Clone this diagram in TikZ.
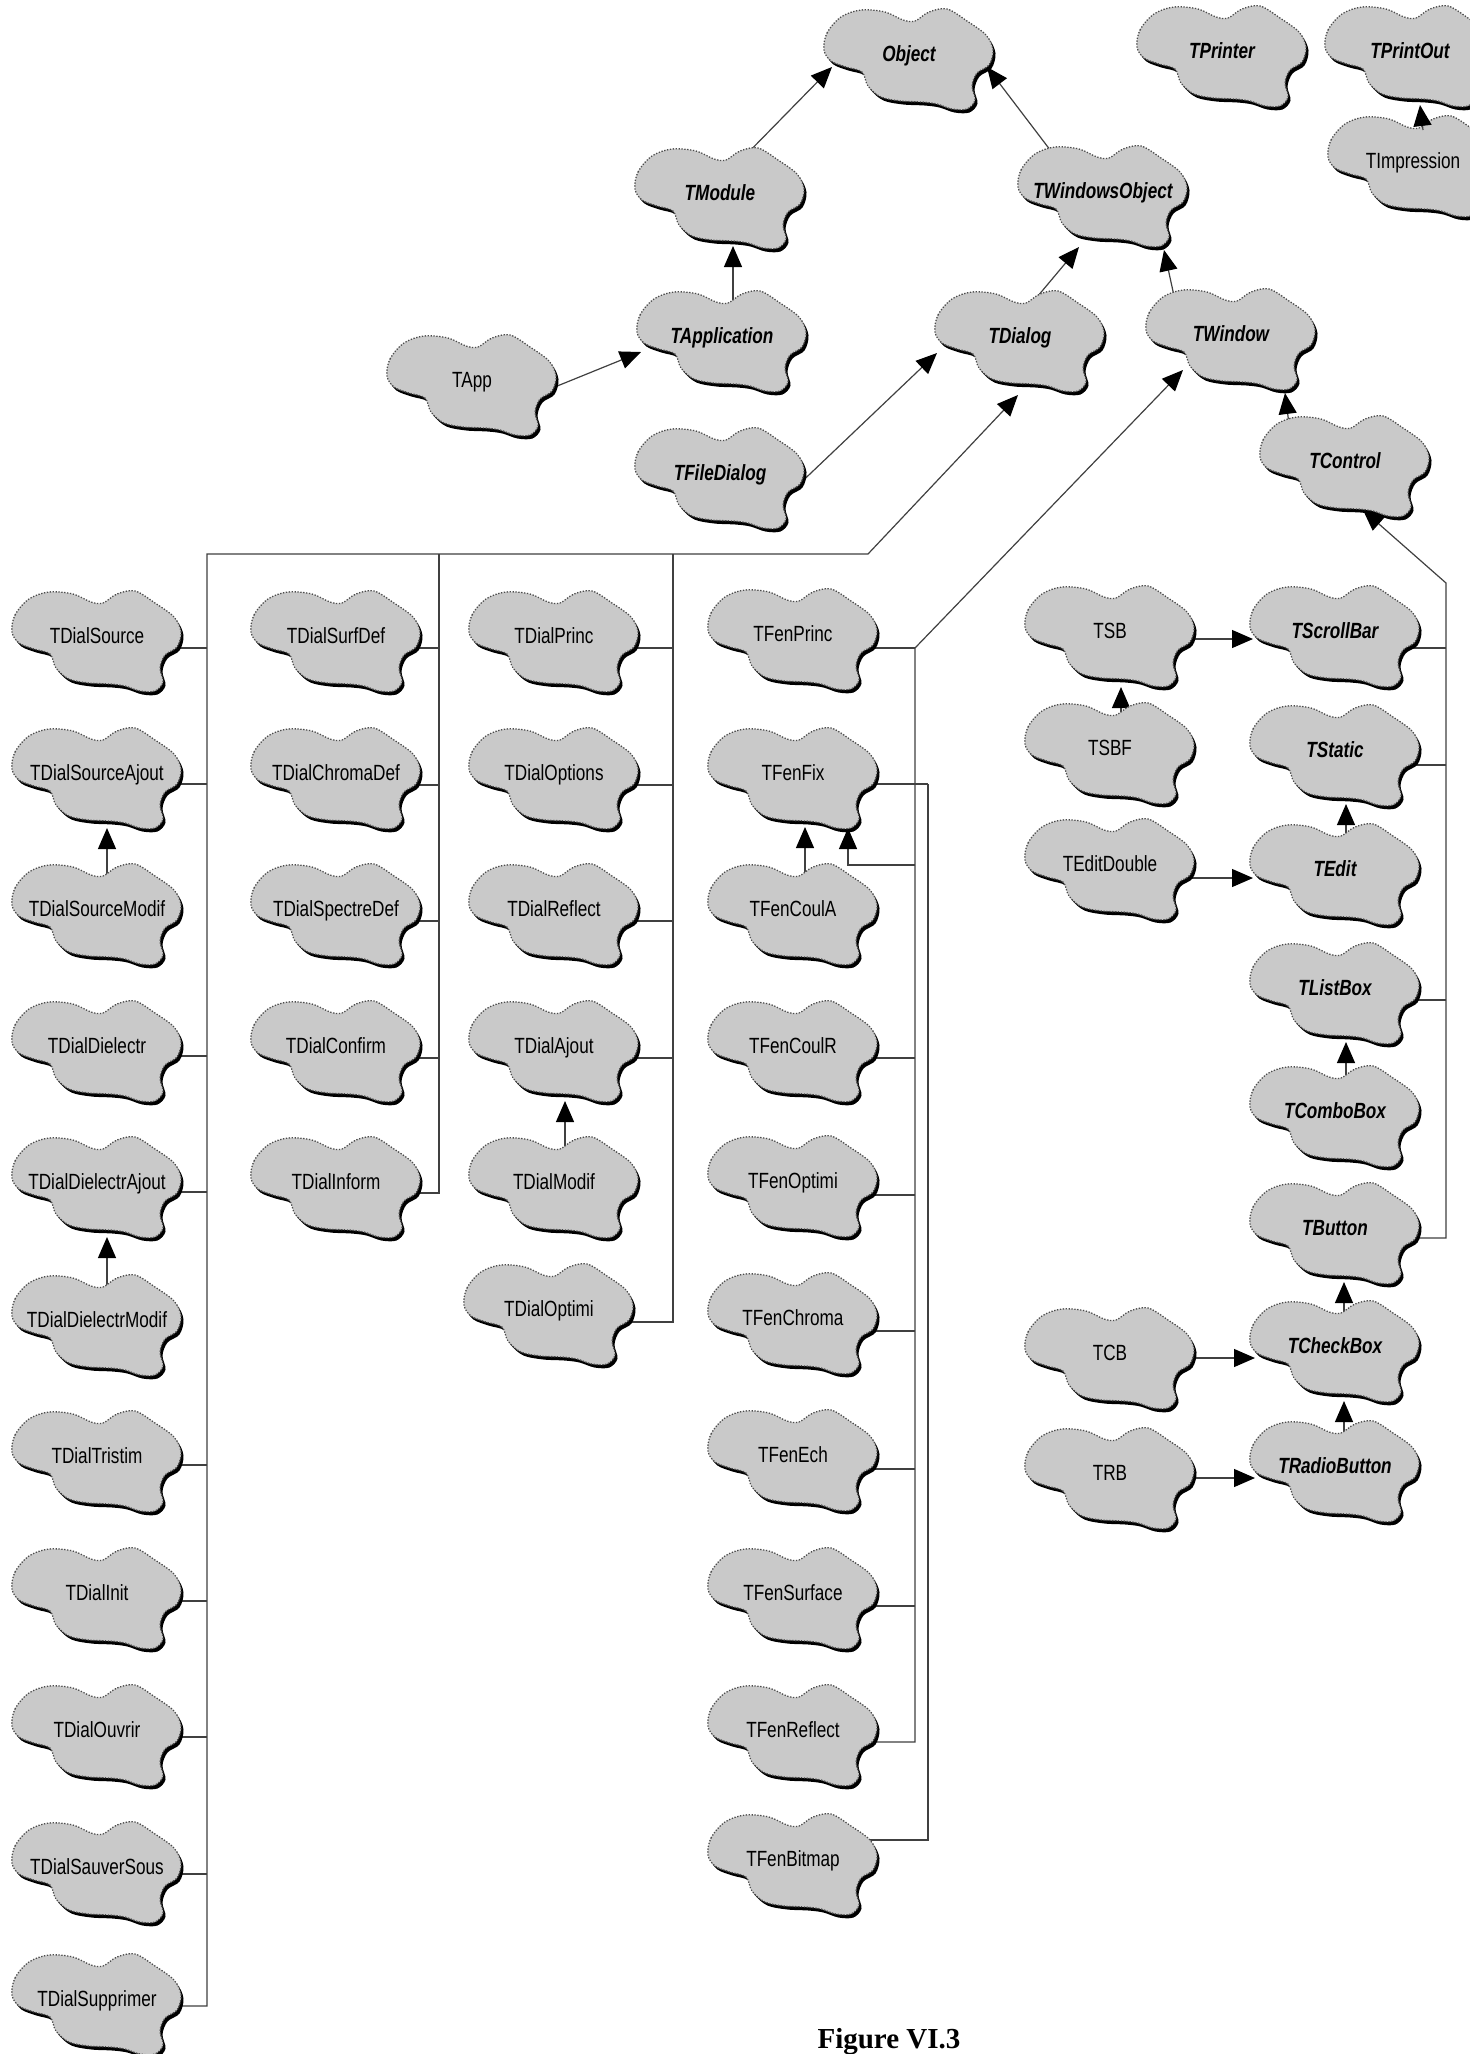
\documentclass[tikz,border=0pt]{standalone}
\usepackage{fontspec}
\setmainfont{Liberation Sans}
\newfontfamily\lblfont[FakeStretch=0.78]{Liberation Sans}
\newfontfamily\capfont{Liberation Serif}
\usetikzlibrary{arrows.meta,calc}
\pgfdeclarelayer{back}
\pgfdeclarelayer{bg}
\pgfsetlayers{back,bg,main}
\tikzset{
  lbl/.style={font=\lblfont\fontsize{22}{26}\selectfont, inner sep=0pt, text height=16pt, text depth=0pt, text=black},
  lblit/.style={lbl, font=\lblfont\fontsize{22}{26}\selectfont\bfseries\itshape},
  ln/.style={draw=black!75, line width=1.2pt},
  arr/.style={ln, -{Triangle[length=21pt,width=18pt,color=black,fill=black]}},
  cloudbody/.style={fill=black!21, draw=black!70, line width=1.3pt, dash pattern=on 1.3pt off 1.6pt},
  cloudshadow/.style={fill=black, shift={(2.5,3.5)}},
}
\newcommand\cloudpath[1]{\path[#1] plot[smooth cycle, tension=0.55] coordinates {(-85,-3) (-82,-20) (-68,-36) (-48,-43) (-24,-41) (-6,-33) (6,-32) (20,-41) (38,-44) (58,-32) (77,-18) (84,-3) (80,12) (68,20) (63,33) (66,47) (58,56) (43,56) (28,51) (13,49) (-8,48) (-28,44) (-41,33) (-47,19) (-63,14) (-78,8)};}
\newcommand\cnode[4][lbl]{%
  \begin{scope}[shift={#3}]
    \cloudpath{cloudshadow}
    \cloudpath{cloudbody}
  \end{scope}
  \node[#1] (#2) at #3 {#4};}
\newcommand\hc[3]{\draw[ln] ($(#1)+(60,#2)$) coordinate (tmp) -- (tmp -| #3);}
\begin{document}
\begin{tikzpicture}[x=1pt,y=-1pt]
\useasboundingbox (0,0) rectangle (1470,2054);
\begin{pgfonlayer}{back}\fill[white] (0,0) rectangle (1470,2054);\end{pgfonlayer}
\begin{scope}
\clip (0,0) rectangle (1470,2054);
% top
\cnode[lblit]{Object}{(909,53)}{Object}
\cnode[lblit]{TPrinter}{(1222,50)}{TPrinter}
\cnode[lblit]{TPrintOut}{(1410,50)}{TPrintOut}
\cnode{TImpression}{(1413,160)}{TImpression}
\cnode[lblit]{TModule}{(720,192)}{TModule}
\cnode[lblit]{TWindowsObject}{(1103,190)}{TWindowsObject}
\cnode[lblit]{TApplication}{(722,335)}{TApplication}
\cnode{TApp}{(472,379)}{TApp}
\cnode[lblit]{TDialog}{(1020,335)}{TDialog}
\cnode[lblit]{TWindow}{(1231,333)}{TWindow}
\cnode[lblit]{TFileDialog}{(720,472)}{TFileDialog}
\cnode[lblit]{TControl}{(1345,460)}{TControl}
% column 1
\cnode{TDialSource}{(97,635)}{TDialSource}
\cnode{TDialSourceAjout}{(97,772)}{TDialSourceAjout}
\cnode{TDialSourceModif}{(97,908)}{TDialSourceModif}
\cnode{TDialDielectr}{(97,1045)}{TDialDielectr}
\cnode{TDialDielectrAjout}{(97,1181)}{TDialDielectrAjout}
\cnode{TDialDielectrModif}{(97,1319)}{TDialDielectrModif}
\cnode{TDialTristim}{(97,1455)}{TDialTristim}
\cnode{TDialInit}{(97,1592)}{TDialInit}
\cnode{TDialOuvrir}{(97,1729)}{TDialOuvrir}
\cnode{TDialSauverSous}{(97,1866)}{TDialSauverSous}
\cnode{TDialSupprimer}{(97,1998)}{TDialSupprimer}
% column 2
\cnode{TDialSurfDef}{(336,635)}{TDialSurfDef}
\cnode{TDialChromaDef}{(336,772)}{TDialChromaDef}
\cnode{TDialSpectreDef}{(336,908)}{TDialSpectreDef}
\cnode{TDialConfirm}{(336,1045)}{TDialConfirm}
\cnode{TDialInform}{(336,1181)}{TDialInform}
% column 3
\cnode{TDialPrinc}{(554,635)}{TDialPrinc}
\cnode{TDialOptions}{(554,772)}{TDialOptions}
\cnode{TDialReflect}{(554,908)}{TDialReflect}
\cnode{TDialAjout}{(554,1045)}{TDialAjout}
\cnode{TDialModif}{(554,1181)}{TDialModif}
\cnode{TDialOptimi}{(549,1308)}{TDialOptimi}
% column 4
\cnode{TFenPrinc}{(793,633)}{TFenPrinc}
\cnode{TFenFix}{(793,772)}{TFenFix}
\cnode{TFenCoulA}{(793,908)}{TFenCoulA}
\cnode{TFenCoulR}{(793,1045)}{TFenCoulR}
\cnode{TFenOptimi}{(793,1180)}{TFenOptimi}
\cnode{TFenChroma}{(793,1317)}{TFenChroma}
\cnode{TFenEch}{(793,1454)}{TFenEch}
\cnode{TFenSurface}{(793,1592)}{TFenSurface}
\cnode{TFenReflect}{(793,1729)}{TFenReflect}
\cnode{TFenBitmap}{(793,1858)}{TFenBitmap}
% right group
\cnode{TSB}{(1110,630)}{TSB}
\cnode{TSBF}{(1110,747)}{TSBF}
\cnode{TEditDouble}{(1110,863)}{TEditDouble}
\cnode{TCB}{(1110,1352)}{TCB}
\cnode{TRB}{(1110,1472)}{TRB}
\cnode[lblit]{TScrollBar}{(1335,630)}{TScrollBar}
\cnode[lblit]{TStatic}{(1335,749)}{TStatic}
\cnode[lblit]{TEdit}{(1335,868)}{TEdit}
\cnode[lblit]{TListBox}{(1335,987)}{TListBox}
\cnode[lblit]{TComboBox}{(1335,1110)}{TComboBox}
\cnode[lblit]{TButton}{(1335,1227)}{TButton}
\cnode[lblit]{TCheckBox}{(1335,1345)}{TCheckBox}
\cnode[lblit]{TRadioButton}{(1335,1465)}{TRadioButton}
\end{scope}
\draw[arr] ($(TImpression)+(10,-30)$) -- ($(TPrintOut)+(10,55)$);
\node[font=\capfont\fontsize{29}{32}\selectfont\bfseries, anchor=base, inner sep=0pt] (caption) at (889,2048) {Figure VI.3};
% bus coordinates
\coordinate (b1) at (207,554);
\coordinate (b2) at (439,554);
\coordinate (b3) at (673,554);
\coordinate (bc) at (868,554);
\coordinate (f1) at (915,648);
\coordinate (f2) at (928,784);
\coordinate (f3) at (915,865);
\coordinate (rb) at (1446,583);
\begin{pgfonlayer}{bg}
% top hierarchy
\draw[arr] ($(TModule)+(18,-29)$) -- ($(Object)+(-77,14)$);
\draw[arr] ($(TWindowsObject)+(-46,-31)$) -- ($(Object)+(78,14)$);
\draw[arr] ($(TApplication)+(11,-20)$) -- ($(TModule)+(13,54)$);
\draw[arr] ($(TApp)+(68,14)$) -- ($(TApplication)+(-81,17)$);
\draw[arr] ($(TDialog)+(7,-26)$) -- ($(TWindowsObject)+(-24,57)$);
\draw[arr] ($(TWindow)+(-55,-28)$) -- ($(TWindowsObject)+(61,60)$);
\draw[arr] ($(TFileDialog)+(71,20)$) -- ($(TDialog)+(-83,18)$);
\draw[arr] ($(TControl)+(-55,-28)$) -- ($(TWindow)+(54,60)$);
% dialog columns
\draw[arr] ($(TDialSupprimer)+(60,8)$) -| (b1) -- (bc) -- ($(TDialog)+(-2,60)$);
\draw[ln] ($(TDialInform)+(60,12)$) -| (b2);
\draw[ln] ($(TDialOptimi)+(60,14)$) -| (b3);
\hc{TDialSource}{13}{b1}
\hc{TDialSourceAjout}{12}{b1}
\hc{TDialDielectr}{11}{b1}
\hc{TDialDielectrAjout}{11}{b1}
\hc{TDialTristim}{10}{b1}
\hc{TDialInit}{9}{b1}
\hc{TDialOuvrir}{8}{b1}
\hc{TDialSauverSous}{8}{b1}
\hc{TDialSurfDef}{13}{b2}
\hc{TDialChromaDef}{13}{b2}
\hc{TDialSpectreDef}{13}{b2}
\hc{TDialConfirm}{13}{b2}
\hc{TDialPrinc}{13}{b3}
\hc{TDialOptions}{13}{b3}
\hc{TDialReflect}{13}{b3}
\hc{TDialAjout}{13}{b3}
\draw[arr] ($(TDialSourceModif)+(10,-25)$) -- ($(TDialSourceAjout)+(10,56)$);
\draw[arr] ($(TDialDielectrModif)+(10,-25)$) -- ($(TDialDielectrAjout)+(10,56)$);
\draw[arr] ($(TDialModif)+(11,-25)$) -- ($(TDialAjout)+(11,56)$);
% TFen column
\draw[arr] ($(TFenReflect)+(60,13)$) -| (f1) -- ($(TWindow)+(-48,37)$);
\draw[ln] ($(TFenPrinc)+(60,15)$) -- (f1);
\draw[ln] ($(TFenBitmap)+(50,-18)$) -| (f2);
\draw[ln] ($(TFenFix)+(60,12)$) -- (f2);
\hc{TFenCoulR}{13}{f1}
\hc{TFenOptimi}{15}{f1}
\hc{TFenChroma}{14}{f1}
\hc{TFenEch}{15}{f1}
\hc{TFenSurface}{14}{f1}
\draw[arr] ($(TFenCoulA)+(12,-25)$) -- ($(TFenFix)+(12,55)$);
\draw[arr] (f3) -| ($(TFenFix)+(55,56)$);
% controls
\draw[arr] ($(TButton)+(60,11)$) -| (rb) -- ($(TControl)+(18,50)$);
\hc{TScrollBar}{18}{rb}
\hc{TStatic}{16}{rb}
\hc{TListBox}{13}{rb}
\draw[arr] ($(TSB)+(70,9)$) -- ($(TScrollBar)+(-82,9)$);
\draw[arr] ($(TSBF)+(11,-25)$) -- ($(TSB)+(11,57)$);
\draw[arr] ($(TEditDouble)+(70,15)$) -- ($(TEdit)+(-82,10)$);
\draw[arr] ($(TEdit)+(11,-25)$) -- ($(TStatic)+(11,55)$);
\draw[arr] ($(TComboBox)+(11,-25)$) -- ($(TListBox)+(11,55)$);
\draw[arr] ($(TCheckBox)+(9,-25)$) -- ($(TButton)+(9,55)$);
\draw[arr] ($(TRadioButton)+(9,-25)$) -- ($(TCheckBox)+(9,56)$);
\draw[arr] ($(TCB)+(70,6)$) -- ($(TCheckBox)+(-80,13)$);
\draw[arr] ($(TRB)+(70,6)$) -- ($(TRadioButton)+(-80,13)$);
\end{pgfonlayer}
\end{tikzpicture}
\end{document}
